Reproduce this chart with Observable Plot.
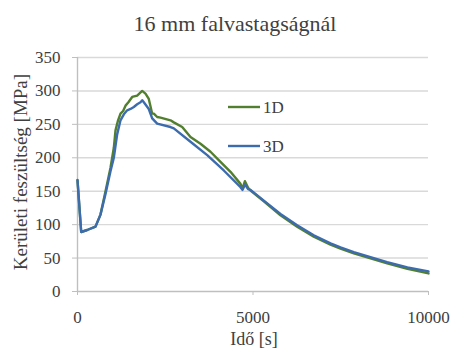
<!DOCTYPE html>
<html><head><meta charset="utf-8">
<script src="https://cdn.jsdelivr.net/npm/d3@7"></script>
<script src="https://cdn.jsdelivr.net/npm/@observablehq/plot@0.6"></script>
<style>
body{margin:0;background:#fff;}
#wrap{width:454px;height:349px;position:relative;font-family:'Liberation Serif';color:#404040}
#title{height:40px;box-sizing:border-box;padding-top:12px;padding-left:16px;line-height:24px;font-size:22px;text-align:center;white-space:nowrap;font-family:'Liberation Serif'}
</style></head><body>
<div id="wrap"><div id="title">16 mm falvastagságnál</div><div id="chart"></div></div>
<script>
const seriesNames = ["1D", "3D"];
const seriesColors = ["#527f2f", "#3c6cae"];
const xTicks = [0, 5000, 10000];
const yTicks = [0, 50, 100, 150, 200, 250, 300, 350];
const xTitle = "Idő [s]";
const yTitle = "Kerületi feszültség [MPa]";

const t1D = [0,105,276,513,655,798,940,1035,1083,1150,1225,1300,1368,1450,1558,1700,1843,1937,2031,2128,2175,2270,2365,2650,2744,2983,3219,3504,3789,4074,4359,4644,4700,4770,4860,4929,5308,5783,6258,6732,7208,7493,7872,8823,9400,10000];
const v1D = [166,89,92,97,115,150,185,215,241,255,266,270,278,283,291,293,300,296,288,266,266,261,260,256,253,246,231,221,209,194,179,161,154,165,155,151,135,114,97,82,70,64,57,42,34,27];

const t3D = [0,105,276,513,655,798,940,1035,1130,1225,1320,1415,1510,1605,1700,1795,1845,1890,2031,2128,2270,2650,2744,3219,3695,4168,4644,4700,4775,4860,4929,5308,5783,6258,6732,7208,7493,7872,8823,9400,10000];
const v3D = [167,89,92,97,115,146,180,200,235,256,265,271,273,276,280,283,286,283,273,259,251,246,244,224,204,181,156,152,160,153,152,136,116,99,84,72,66,59,44,36,30];

const data1 = t1D.map((t, i) => ({t, v: v1D[i]}));
const data3 = t3D.map((t, i) => ({t, v: v3D[i]}));

const W = 454, H = 309, mL = 77, mR = 26, mT = 17, mB = 58;
const fontFam = "'Liberation Serif'";

const svg = Plot.plot({
  width: W, height: H, marginTop: mT, marginBottom: mB, marginLeft: mL, marginRight: mR,
  style: {fontFamily: fontFam, fontSize: "17px", color: "#404040", background: "transparent", overflow: "visible"},
  x: {domain: [0, 10000], label: null},
  y: {domain: [0, 350], label: null},
  marks: [
    Plot.ruleY(yTicks.filter(d => d > 0), {stroke: "#d9d9d9", strokeWidth: 1.4}),
    Plot.ruleY([0], {stroke: "#bfbfbf", strokeWidth: 1.4}),
    Plot.ruleX([0], {stroke: "#bfbfbf", strokeWidth: 1.4}),
    Plot.axisY({ticks: yTicks, tickSize: 5, tickPadding: 12, stroke: "#bfbfbf", fill: "#404040", label: null, tickFormat: d => String(d)}),
    Plot.axisX({ticks: xTicks, tickSize: 4, tickPadding: 15, stroke: "#bfbfbf", fill: "#404040", label: null, tickFormat: d => String(d)}),
    Plot.line(data1, {x: "t", y: "v", stroke: seriesColors[0], strokeWidth: 2.4}),
    Plot.line(data3, {x: "t", y: "v", stroke: seriesColors[1], strokeWidth: 2.4})
  ]
});
document.getElementById("chart").appendChild(svg);

const s = d3.select(svg);
s.selectAll("text").style("font-family", fontFam);
s.append("text").attr("transform", "translate(20,132) rotate(-90)")
  .attr("text-anchor", "middle").attr("dy", "0.35em")
  .style("font-family", fontFam).attr("font-size", 19).attr("fill", "#404040").text(yTitle);
s.append("text").attr("x", 254).attr("y", 305)
  .attr("text-anchor", "middle")
  .style("font-family", fontFam).attr("font-size", 18).attr("fill", "#404040").text(xTitle);

const legY = [67, 106];
seriesNames.forEach((name, i) => {
  s.append("line").attr("x1", 228).attr("x2", 260).attr("y1", legY[i]).attr("y2", legY[i])
    .attr("stroke", seriesColors[i]).attr("stroke-width", 2.4);
  s.append("text").attr("x", 263).attr("y", legY[i]).attr("dy", "0.35em")
    .attr("text-anchor", "start")
    .style("font-family", fontFam).attr("font-size", 17).attr("fill", "#404040").text(name);
});
</script>
</body></html>
